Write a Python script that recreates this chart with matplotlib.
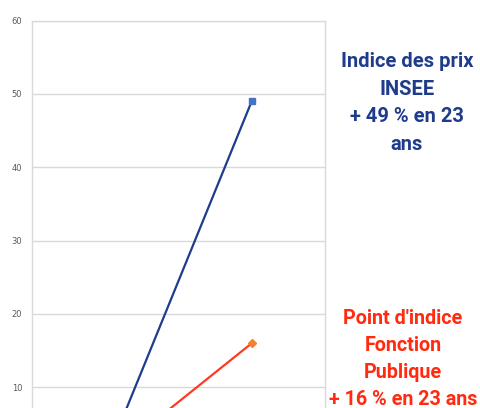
import matplotlib
matplotlib.use("Agg")
import matplotlib.pyplot as plt

categories = ["Début", "23 ans après"]
prix_insee = [0, 49]
point_indice = [0, 16]
yticks = [10, 20, 30, 40, 50, 60]

W, H = 480, 408
fig = plt.figure(figsize=(W / 100, H / 100), dpi=100)
fig.patch.set_facecolor("white")

# axes in pixel terms: left 32, right 325, top 20 (=60), bottom 460.6 (=0)
left, right, top, bottom = 32, 325, 20.5, 460.6
ax = fig.add_axes([left / W, (H - bottom) / H, (right - left) / W, (bottom - top) / H])

x = list(range(len(categories)))
ax.plot(x, prix_insee, color="#1F3C8C", lw=1.6, marker="s", ms=5,
        markerfacecolor="#4472C4", markeredgecolor="#4472C4", zorder=3)
ax.plot(x, point_indice, color="#FF3B1F", lw=1.6, marker="D", ms=4,
        markerfacecolor="#F5822A", markeredgecolor="#F5822A", zorder=3)

ax.set_xlim(-0.5, len(categories) - 0.5)
ax.set_ylim(0, 60)
ax.set_yticks(yticks)
ax.set_xticks([])
ax.grid(axis="y", color="#D9D9D9", lw=1)
ax.set_axisbelow(True)
for s in ["left", "top", "right", "bottom"]:
    ax.spines[s].set_color("#D9D9D9")
    ax.spines[s].set_linewidth(1)
ax.tick_params(axis="y", length=0, pad=7, labelsize=6, labelcolor="#595959")

fig.text(407 / W, 1 - 103 / H, "Indice des prix\nINSEE\n+ 49 % en 23\nans",
         ha="center", va="center", ma="center", color="#1F3C8C",
         fontsize=14.5, fontweight="bold", family=["Roboto", "Liberation Sans"], linespacing=1.58)
fig.text(403 / W, 1 - 359 / H, "Point d'indice\nFonction\nPublique\n+ 16 % en 23 ans",
         ha="center", va="center", ma="center", color="#FF2A10",
         fontsize=14.2, fontweight="bold", family=["Roboto", "Liberation Sans"], linespacing=1.52)

fig.savefig("out.png", dpi=100)
